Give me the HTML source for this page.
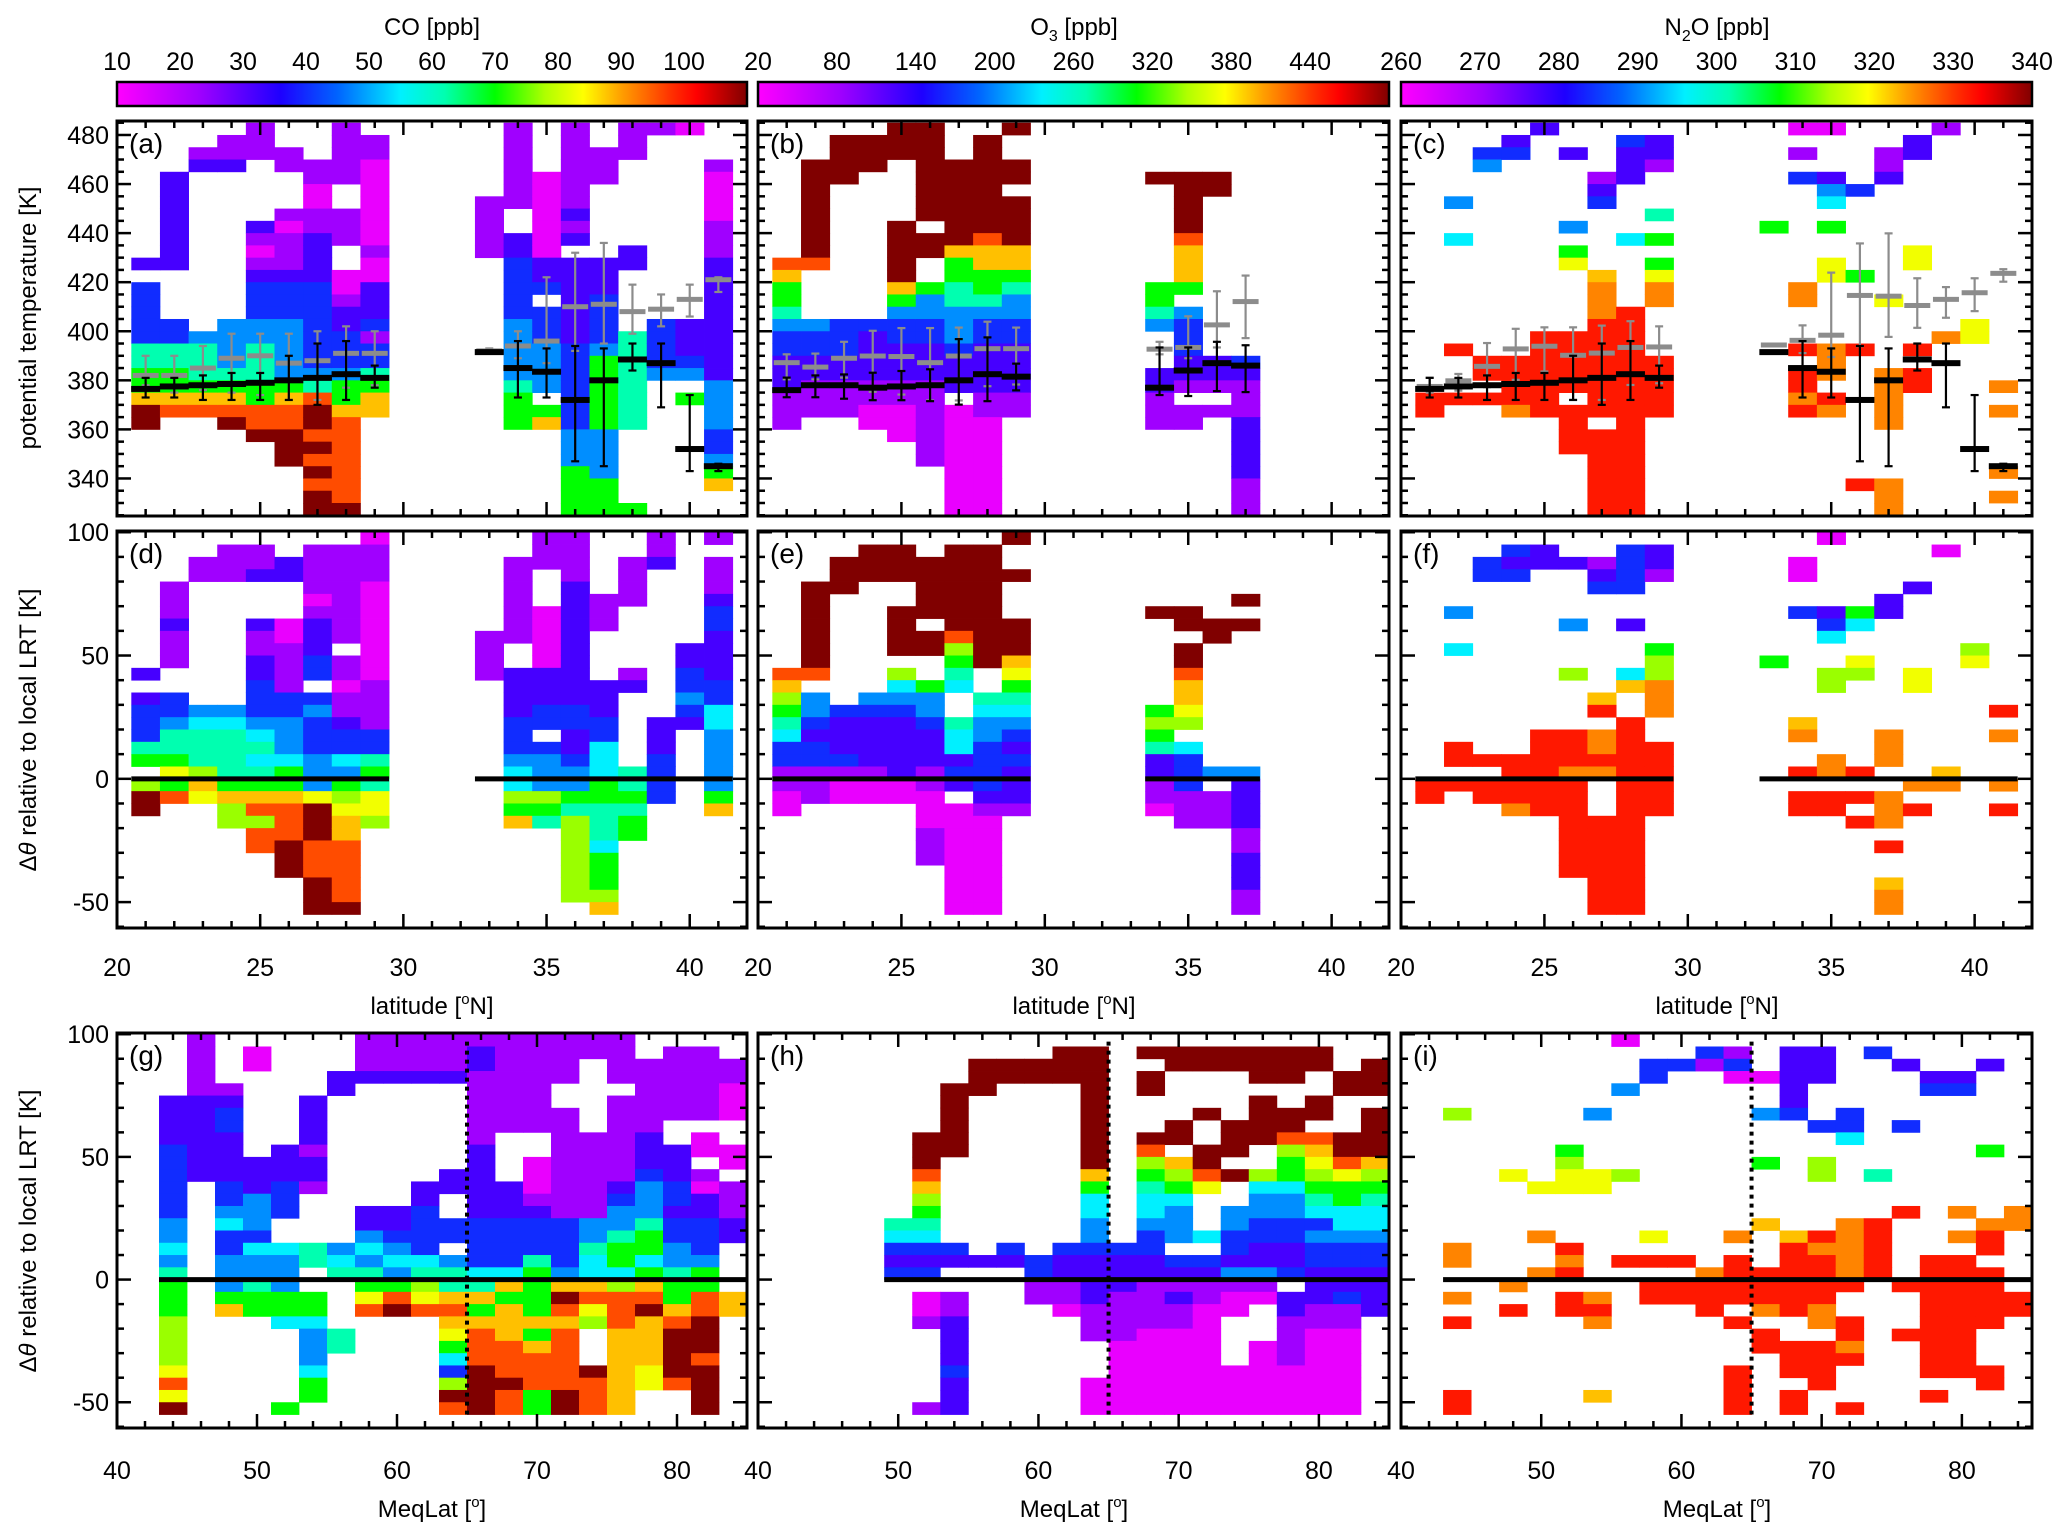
<!DOCTYPE html>
<html><head><meta charset="utf-8"><title>Trace gas distributions</title>
<style>
html,body{margin:0;padding:0;background:#fff;}
svg{display:block;font-family:"Liberation Sans",Arial,sans-serif;}
</style></head>
<body>
<svg id="chart" width="2067" height="1538" viewBox="0 0 2067 1538" xmlns="http://www.w3.org/2000/svg">
<defs>
<linearGradient id="rainbow" x1="0" x2="1" y1="0" y2="0">
<stop offset="0" stop-color="#ff00ff"/><stop offset="0.13" stop-color="#a000ff"/><stop offset="0.26" stop-color="#1e00ff"/>
<stop offset="0.35" stop-color="#0064ff"/><stop offset="0.45" stop-color="#00f0ff"/><stop offset="0.52" stop-color="#00ffb0"/>
<stop offset="0.60" stop-color="#00ff00"/><stop offset="0.68" stop-color="#b0ff00"/><stop offset="0.74" stop-color="#ffff00"/>
<stop offset="0.80" stop-color="#ffa000"/><stop offset="0.88" stop-color="#ff3000"/><stop offset="0.92" stop-color="#ff0000"/>
<stop offset="1" stop-color="#800000"/>
</linearGradient>
</defs>
<g font-size="24" text-anchor="middle">
<text x="432" y="35">CO [ppb]</text>
<text x="1074" y="35">O<tspan font-size="16" dy="6">3</tspan><tspan dy="-6"> [ppb]</tspan></text>
<text x="1717" y="35">N<tspan font-size="16" dy="6">2</tspan><tspan dy="-6">O [ppb]</tspan></text>
</g>
<g font-size="24" text-anchor="middle">
<text transform="translate(36,318) rotate(-90)">potential temperature [K]</text>
<text transform="translate(36,730) rotate(-90)">Δ<tspan font-style="italic">θ</tspan> relative to local LRT [K]</text>
<text transform="translate(36,1231) rotate(-90)">Δ<tspan font-style="italic">θ</tspan> relative to local LRT [K]</text>
<text x="432" y="1014">latitude [<tspan font-size="15" dy="-10">o</tspan><tspan dy="10">N]</tspan></text>
<text x="1074" y="1014">latitude [<tspan font-size="15" dy="-10">o</tspan><tspan dy="10">N]</tspan></text>
<text x="1717" y="1014">latitude [<tspan font-size="15" dy="-10">o</tspan><tspan dy="10">N]</tspan></text>
<text x="432" y="1517">MeqLat [<tspan font-size="15" dy="-10">o</tspan><tspan dy="10">]</tspan></text>
<text x="1074" y="1517">MeqLat [<tspan font-size="15" dy="-10">o</tspan><tspan dy="10">]</tspan></text>
<text x="1717" y="1517">MeqLat [<tspan font-size="15" dy="-10">o</tspan><tspan dy="10">]</tspan></text>
</g>
</svg>
<script>
// ---------- DATA ----------
// Each string = one grid column (top row first). '.' = no data; chars encode colour-scale level.
const levelChars = ['0','1','2','3','4','c','5','6','g','y','7','o','8','r','9'];
const levelValues = [0.03,0.13,0.22,0.30,0.38,0.45,0.52,0.60,0.67,0.73,0.78,0.82,0.86,0.90,1.0];

const coThetaCols = [
"...........2.333335566799.......","....22222222....33556678........","..12.............4555678........",".112............444456789.......",
"111.....210123334455566889......","..11...101112333444446788999....","...11001122223333333458998989899","11111..111..00122333466788888889",
".11000000010022231335677........","................................","................................","................................",
"......11111.....................","1111111..2233333444445666.......","....0000000223.3334444.67.......","1111111212.222222233333334446666",
"..111......222333346666664444666","111.......22.....55555555......6","1...............33334...........","0...............22234.6.........",
"...100001112222222222444433467.."];
const o3ThetaCols = [
"...........87665433222111.......","...999999998....43322111........",".9999...........33322111........",".999............322221100.......",
"999.....999997643322211000......","99999999.99..644332221111111....","...9999999766554443222.000000000",".9999999987766543322221100000000",
"9..99.999977654433222211........","................................","................................","................................",
"................................","....9........6654...22111.......","....9999987776.4333221.11.......","....99.............221.1........",
"...................3211122222111","................................","................................","................................",
"................................"];
const n2oThetaCols = [
"......................rr........","......4..c........r...r.........","..34...............rr.r.........",".23................rrrro........",
"2................rrrrrrr........","..2.....4.6y.....rrrrr.rrrr.....","....123.....7ooorrrrrrrr.rrrrrrr",".3222....c.....rrrrrrrrrrrrrrrrr",
".221...5.6.6yoo....rrrrr........","................................","................................","................................",
"........6.......................","0.1.3........oo...r.rror........","0...24c.6..yy.....ooo.ro........",".....3......6.....r..........r..",
"..112.........y.....ooooo....ooo",".22.......yy......r.rr..........","1................o..............","................yy..............",
".....................o.o....o.o."];
const coDthCols = [
"...........2.233356.g99........","....1112111..334556y68.........","..11..........4c555g7y.........",".111..........4c555567gg.......",
".112...211223334c5c5678g88.....","..22...00111133444c667888999...",".11110122233.34333444y999888999",".11111111.11011233c46gy77888889",
"011100000000111133565yyg.......","...............................","...............................","...............................",
"........1111...................","..1111111..22223334ccg67.......","111...0000022233.3444g65.......","11112222222222332234465ggggggg.",
".....111....22233ccc66555c666g7","..1111.....12......556566......","112............2223333.........",".........2233432...............",
"1.111233222233cc4444467........"];
const o3DthCols = [
"...........87g65c331100........","....99999998.443233111.........","..999.........32223100.........",".999.........432222100.........",
".999..9999.gc432222200.........","..99999.99..644322211000111....",".99999998g65c..5cc232.000000000",".9999999999..5c4433332100000000",
"9..9...9997y65c43232221........","...............................","...............................","...............................",
"...............................","......9.......6g6522110........","......99.99877yg.c333111.......",".......99..........4.111.......",
".....9.9...........422221122211","...............................","...............................","...............................",
"..............................."];
const n2oDthCols = [
"....................rr.........","......4..c.......rr.r..........","..33..............r.rr.........",".323..............rrrro........",
".22.............rrrrrrr........","..2....4...g....rrrorrrrrrrr...","..123........7r.ooro...rrrrrrrr",".3333..2...c7..rrrrrrrrrrrrrrrr",
".221.....6ggooo..rrrrrr........","...............................","...............................","...............................",
"..........6....................","..00..3........7o..r.rr........","0.....23c..gg.....oo.rr........","......6c..yg.......r.r.r.......",
".....22.........ooo..ooo.r..7oo","....2......yy.......o.r........",".0.................7o..........",".........gy....................",
"..............r.o...o.r........"];
const coEqlCols = [
".....222233333344c45666ggggy8y9","111112222222...................","....12332222334c3344467........",".00.......2224443c44566........",
".........222333..c44466c......6",".....22221221....55..66c444c66.","...22............4c5....55.....","1112..........224c456y8........",
"1112..........2234c4689........","1112........223333c5gy8........","1112.......22..33.455787y6c3g98","1221111112222223333c57678889999",
"11111111....2223333c76777888988","11111111..000123335666676788866","1111..1111111113333479878888899","11......1111111445cc78yg...9888",
"1111.11111112344566cg8887777777","..1111112223444566c67897777yy..",".111111..22233233445667899998..",".111111.00.10223334668899989999",
"..11000..00.11122....77........"];
const o3EqlCols = [
"...............................","...............................","...............................","...............5c323...........",
"........99987g65c323.001......1","....999999.......32..1122223222","..999.............2............","..99.............32............",
"..99..............3311.........",".999.............322110........",".999999999976cc4432222111...000",".................32221111000000",
".9.99...98g65cc4332211110000000",".99....99.7g6c444.3212110000000",".99...9..998y...c.3211000000000",".99....999.9..443324100....0000",
".999.9999..gc443322410...000000",".999..998g66c4433223.2211110000",".99..99.87yg65c3433222110000000","...99...998y66cc433223110000000",
"..999.99997g65cc4332222........"];
const n2oEqlCols = [
"......g..........oo..o.r.....rr","...............................","...........y........o.r........","............y...o..o...........",
".........6gyy....ror.rr........","......4....yy........oro.....7.","0...4......g......r............","..33............y.r.rr.........",
"..3...............r.rr.........",".31................orrr........",".130............o.rrrr.r...rrrr","...0..4...6....7...rrro.rr.....",
".222223.........7rrrrrr..rrr.rr",".222...3..gg....rorrrroo.rrrr..","......33c......ooooor..rror...r",".3.........5...rrrrr...........",
"..2....3......r.....r...r......","...23.............rrrrrrrrrr.r.","...23.........o.o.rrrrrrrrrr...","..2......6.....orr.rrrrr...rr..",
"..............oo.....rr........"];

// Median / range markers (potential temperature, K), one entry per latitude column (21..41 N)
const lrtMedA = [376.5,377.5,378,378.5,379,380,381,382.5,381,null,null,null,391.5,385,383.5,372,380,388.5,387,352,345];
const lrtHiA  = [381,381,382,383,383,390,395,396,386,null,null,null,null,396,393,394,393,395,395,374,346];
const lrtLoA  = [373,373,372,372,372,372,370,372,377,null,null,null,null,373,373,347,345,384,369,343,343];
const chemMedA = [382,382,385,389,390,387,388,391,391,null,null,null,392,394,396,410,411,408,409,413,421];
const chemHiA  = [390,390,394,399,399,399,400,402,400,null,null,null,393,400,422,432,436,419,415,419,422];
const chemLoA  = [378,375,376,375,374,372,372,377,378,null,null,null,391,389,387,392,395,399,402,406,416];
const lrtMedB = [376,378,378,377,377.5,378,380,382.5,381.5,null,null,null,null,377,384,387,386,null,null,null,null];
const lrtHiB  = [381.1,382,382.4,383.1,383.8,384.5,396.8,397.5,386.8,null,null,null,null,393.4,393.4,395.7,394.3,null,null,null,null];
const lrtLoB  = [373.1,373.1,372.5,371.9,371.9,371.5,370.1,371.5,375.9,null,null,null,null,374,373.6,375.6,375.2,null,null,null,null];
const chemMedB = [387.2,385.4,389,389.9,389.7,387.2,389.9,392.9,392.9,null,null,null,null,392.7,393.4,402.6,412.1,null,null,null,null];
const chemHiB  = [390.6,390.9,395.7,400.2,401.3,401.3,401.5,403.9,401.5,null,null,null,null,395.7,406.1,416.3,422.7,null,null,null,null];
const chemLoB  = [380.4,380.4,381.1,375.3,374.2,371.8,371.8,377.6,378.3,null,null,null,null,390.6,389,393.4,397.2,null,null,null,null];
const chemMedC = [377.5,379.8,385.7,392.8,393.9,390.2,391.1,393.4,393.6,null,null,null,394.4,396.3,398.4,414.6,414.3,410.5,413,415.7,423.6];
const chemHiC  = [381.1,382.6,395.2,401,401.6,401.6,402.3,404.1,402,null,null,null,null,402.4,423.9,435.8,439.9,421.6,418,421.6,425.3];
const chemLoC  = [375,375.8,377.2,380.2,383.6,372,372,378.1,378.8,null,null,null,null,391.1,389.5,393.9,397.7,401.4,405.5,408.2,420.2];

// colour-bar tick labels
const coTicks = [10,20,30,40,50,60,70,80,90,100];
const o3Ticks = [20,80,140,200,260,320,380,440];
const n2oTicks = [260,270,280,290,300,310,320,330,340];
const thetaTicks = [340,360,380,400,420,440,460,480];
const dthTicks = [-50,0,50,100];
const latTicks = [20,25,30,35,40];
const eqlTicks = [40,50,60,70,80];

// ---------- DRAWING ----------
const NS='http://www.w3.org/2000/svg';
const svg=document.getElementById('chart');
function mk(tag,attrs,parent){const e=document.createElementNS(NS,tag);for(const k in attrs)e.setAttribute(k,attrs[k]);(parent||svg).appendChild(e);return e;}
const stops=[[0,[255,0,255]],[0.13,[160,0,255]],[0.26,[30,0,255]],[0.35,[0,100,255]],[0.45,[0,240,255]],[0.52,[0,255,176]],[0.60,[0,255,0]],[0.68,[176,255,0]],[0.74,[255,255,0]],[0.80,[255,160,0]],[0.88,[255,48,0]],[0.92,[255,0,0]],[1,[128,0,0]]];
function cmap(v){for(let i=1;i<stops.length;i++){if(v<=stops[i][0]){const a=stops[i-1],b=stops[i],t=(v-a[0])/(b[0]-a[0]);const c=a[1].map((x,j)=>Math.round(x+(b[1][j]-x)*t));return 'rgb('+c.join(',')+')';}}return 'rgb(128,0,0)';}
function charVal(ch){const i=levelChars.indexOf(ch);return i<0?null:levelValues[i];}

const COLX=[[117,747],[758,1389],[1401,2032]];
const ROWY=[[121,516],[531,928],[1033,1428]];
const ROWDOM=[[324.7,485.7],[-60.5,100.5],[-60.5,100.5]];
const XDOM=[[20,42],[20,42],[40,85]];
const GRIDX0=[20.5,20.5,43], GRIDDX=[1,1,2], GRIDTOP=[485,100,100], GRIDDY=5;

const panels=[
 {id:'a',r:0,c:0,grid:coThetaCols,name:'co-theta'},
 {id:'b',r:0,c:1,grid:o3ThetaCols,name:'o3-theta'},
 {id:'c',r:0,c:2,grid:n2oThetaCols,name:'n2o-theta'},
 {id:'d',r:1,c:0,grid:coDthCols,name:'co-dtheta',zero:[[20.5,29.5],[32.5,41.5]]},
 {id:'e',r:1,c:1,grid:o3DthCols,name:'o3-dtheta',zero:[[20.5,29.5],[33.5,37.5]]},
 {id:'f',r:1,c:2,grid:n2oDthCols,name:'n2o-dtheta',zero:[[20.5,29.5],[32.5,41.5]]},
 {id:'g',r:2,c:0,grid:coEqlCols,name:'co-meqlat',zero:[[43,85]],dot:65},
 {id:'h',r:2,c:1,grid:o3EqlCols,name:'o3-meqlat',zero:[[49,85]],dot:65},
 {id:'i',r:2,c:2,grid:n2oEqlCols,name:'n2o-meqlat',zero:[[43,85]],dot:65}
];

function scales(p){
 const [x0,x1]=COLX[p.c],[y0,y1]=ROWY[p.r],[d0,d1]=XDOM[p.r],[v0,v1]=ROWDOM[p.r];
 return {x:v=>x0+(v-d0)/(d1-d0)*(x1-x0), y:v=>y1-(v-v0)/(v1-v0)*(y1-y0), x0,x1,y0,y1};
}

function drawMarkers(g,s,med,hi,lo,color,barW,thick,name){
 for(let i=0;i<med.length;i++){
  if(med[i]===null)continue;
  const cx=s.x(21+i);
  if(hi[i]!==null&&lo[i]!==null){
   const l=mk('line',{x1:cx,x2:cx,y1:s.y(hi[i]),y2:s.y(lo[i]),stroke:color,'stroke-width':2.2},g);
   
   
   [hi[i],lo[i]].forEach(v=>{const cp=mk('line',{x1:cx-4,x2:cx+4,y1:s.y(v),y2:s.y(v),stroke:color,'stroke-width':2.2},g);
    
    });
  }
  const b=mk('rect',{x:cx-barW/2,y:s.y(med[i])-thick/2,width:barW,height:thick,fill:color},g);
  
  
 }
}

panels.forEach(p=>{
 const s=scales(p);
 const g=mk('g',{});
 
 
 // heatmap cells
 p.grid.forEach((col,ci)=>{
  const xa=s.x(GRIDX0[p.r]+ci*GRIDDX[p.r]), xb=s.x(GRIDX0[p.r]+(ci+1)*GRIDDX[p.r]);
  for(let ri=0;ri<col.length;ri++){
   const v=charVal(col[ri]); if(v===null)continue;
   const top=GRIDTOP[p.r]-ri*GRIDDY;
   const ya=Math.max(s.y(top),s.y0), yb=Math.min(s.y(top-GRIDDY),s.y1);
   const cell=mk('rect',{x:xa.toFixed(2),y:ya.toFixed(2),width:(xb-xa+0.4).toFixed(2),height:(yb-ya+0.4).toFixed(2),fill:cmap(v)},g);
   
   
  }
 });
 // zero line
 if(p.zero)p.zero.forEach(z=>{const l=mk('line',{x1:s.x(z[0]),x2:s.x(z[1]),y1:s.y(0),y2:s.y(0),stroke:'#000','stroke-width':5},g);
  
  });
 if(p.dot){const l=mk('line',{x1:s.x(p.dot),x2:s.x(p.dot),y1:s.y(97),y2:s.y(-55),stroke:'#000','stroke-width':4,'stroke-dasharray':'4 5'},g);
  
  }
 // markers
 if(p.id==='a'){drawMarkers(g,s,chemMedA,chemHiA,chemLoA,'#8c8c8c',26,5,'gray');drawMarkers(g,s,lrtMedA,lrtHiA,lrtLoA,'#000',29,6,'lrt');}
 if(p.id==='b'){drawMarkers(g,s,chemMedB,chemHiB,chemLoB,'#8c8c8c',26,5,'gray');drawMarkers(g,s,lrtMedB,lrtHiB,lrtLoB,'#000',29,6,'lrt');}
 if(p.id==='c'){drawMarkers(g,s,chemMedC,chemHiC,chemLoC,'#8c8c8c',26,5,'gray');drawMarkers(g,s,lrtMedA,lrtHiA,lrtLoA,'#000',29,6,'lrt');}
 // frame
 const fr=mk('rect',{x:s.x0,y:s.y0,width:s.x1-s.x0,height:s.y1-s.y0,fill:'none',stroke:'#000','stroke-width':3},g);
 
 
 // ticks
 const tk=mk('g',{stroke:'#000','stroke-width':2.5},g);
 
 
 const [d0,d1]=XDOM[p.r]; const xmaj=p.r===2?10:5, xmin=p.r===2?2:1;
 for(let v=d0;v<=d1+1e-6;v+=xmin){const X=s.x(v),L=(Math.abs(v/xmaj-Math.round(v/xmaj))<1e-6)?14:7;
  mk('line',{x1:X,x2:X,y1:s.y1,y2:s.y1-L},tk);mk('line',{x1:X,x2:X,y1:s.y0,y2:s.y0+L},tk);}
 const [v0,v1]=ROWDOM[p.r]; const ymaj=p.r===0?20:50, ymin=p.r===0?5:10;
 for(let v=Math.ceil(v0/ymin)*ymin;v<=v1;v+=ymin){const Y=s.y(v),L=(Math.abs(v/ymaj-Math.round(v/ymaj))<1e-6)?14:7;
  mk('line',{x1:s.x0,x2:s.x0+L,y1:Y,y2:Y},tk);mk('line',{x1:s.x1,x2:s.x1-L,y1:Y,y2:Y},tk);}
 // letter
 const lt=mk('text',{x:s.x0+12,y:s.y0+32,'font-size':28},g);
 lt.textContent='('+p.id+')';
 
 
 // y tick labels (left column only)
 if(p.c===0){const arr=p.r===0?thetaTicks:dthTicks;
  arr.forEach(v=>{const t=mk('text',{x:s.x0-8,y:s.y(v)+9,'font-size':25,'text-anchor':'end'},g);t.textContent=v;
   
   });}
 // x tick labels (rows 2 and 3)
 if(p.r>0){const arr=p.r===1?latTicks:eqlTicks; const by=p.r===1?976:1479;
  arr.forEach(v=>{const t=mk('text',{x:s.x(v),y:by,'font-size':25,'text-anchor':'middle'},g);t.textContent=v;
   
   });}
});

// colour bars
[[coTicks,10,110,'co'],[o3Ticks,20,500,'o3'],[n2oTicks,260,340,'n2o']].forEach((cb,i)=>{
 const [x0,x1]=COLX[i];
 const g=mk('g',{});
 
 
 const r=mk('rect',{x:x0,y:82,width:x1-x0,height:24,fill:'url(#rainbow)',stroke:'#000','stroke-width':2.5},g);
 
 
 cb[0].forEach(v=>{const X=x0+(v-cb[1])/(cb[2]-cb[1])*(x1-x0);
  const t=mk('text',{x:X,y:70,'font-size':25,'text-anchor':'middle'},g);t.textContent=v;
  
  });
});
</script>
</body></html>
